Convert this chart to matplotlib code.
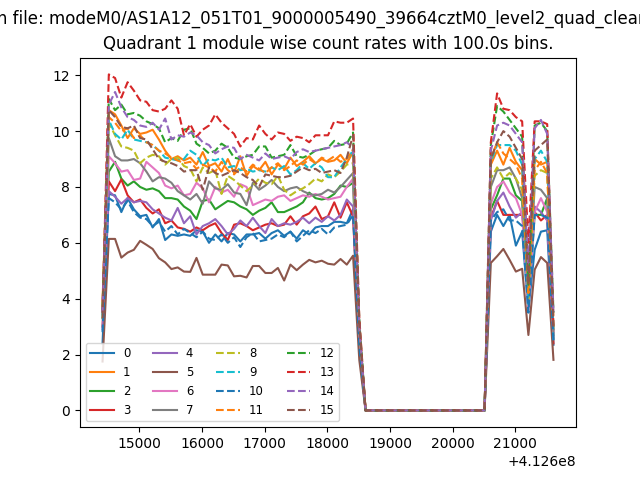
import matplotlib

matplotlib.use("Agg")
import matplotlib.pyplot as plt
import numpy as np

# time axis: 100 s bins (seconds)
t_start = 412614410.0
bin_size = 100.0
n_bins = 73

# count rates per module: first orbit chunk (14410..18510), gap, second chunk (20610..21610)
m0_a = [2.4, 7.75, 7.7, 7.1, 7.6, 7.2, 6.95, 7.0, 6.55, 6.85, 6.1, 6.3, 6.25, 6.3, 6.25, 6.45, 6.4, 6.0, 6.3, 6.05, 6.35,
        6.3, 6.05, 6.3, 6.3, 6.35, 6.15, 6.35, 6.45, 6.25, 6.4, 6.15, 6.45, 6.3, 6.55, 6.6, 6.6, 6.75, 6.75, 6.7, 7.2, 2.3]
m1_a = [3.9, 10.75, 10.6, 10.2, 9.75, 10.1, 9.9, 9.95, 10.05, 9.7, 9.3, 9.0, 9.1, 8.95, 9.05, 8.8, 9.25, 8.75, 8.85, 8.55,
        9.0, 8.5, 9.1, 8.4, 8.75, 8.6, 8.9, 8.45, 8.8, 8.65, 9.05, 8.75, 8.9, 9.1, 8.85, 9.0, 8.9, 8.95, 9.15, 8.85, 9.25, 2.9]
m2_a = [3.3, 8.55, 8.9, 8.3, 8.05, 8.2, 8.0, 7.9, 7.95, 7.85, 7.6, 7.6, 7.55, 7.3, 7.15, 6.85, 7.5, 7.55, 7.2, 7.35, 7.5,
        7.45, 7.3, 7.2, 7.0, 7.15, 7.25, 7.45, 7.1, 7.1, 7.2, 7.3, 7.45, 7.8, 7.6, 7.55, 7.6, 7.75, 8.05, 8.0, 8.15, 2.6]
m3_a = [3.0, 8.2, 7.85, 8.27, 7.7, 7.45, 7.55, 7.25, 7.05, 7.2, 6.7, 6.8, 6.55, 6.5, 6.4, 6.55, 6.45, 6.6, 6.7, 6.35, 6.1,
        6.65, 6.7, 6.6, 6.45, 6.55, 6.65, 6.7, 6.6, 6.65, 6.95, 6.65, 6.95, 7.05, 7.3, 6.85, 6.95, 7.45, 6.9, 7.45, 6.95, 2.3]
m4_a = [2.9, 7.85, 7.65, 7.4, 7.6, 7.45, 7.5, 7.45, 7.2, 7.05, 6.9, 6.8, 7.25, 6.7, 6.95, 6.3, 6.6, 6.7, 6.85, 6.6, 6.3,
        6.5, 6.8, 6.6, 6.9, 6.6, 6.35, 6.85, 6.6, 6.7, 6.65, 6.75, 6.9, 6.7, 6.9, 6.75, 6.95, 6.8, 7.0, 7.55, 7.3, 2.4]
m5_a = [1.75, 6.14, 6.14, 5.47, 5.65, 5.75, 6.07, 5.93, 5.78, 5.45, 5.3, 5.06, 5.12, 4.97, 4.96, 5.46, 4.86, 4.86, 4.86,
        5.22, 5.19, 4.8, 4.82, 4.76, 5.17, 5.17, 4.92, 4.92, 5.1, 4.65, 5.22, 5.02, 5.22, 5.39, 5.3, 5.36, 5.25, 5.22, 5.42,
        5.22, 5.54, 1.8]
m6_a = [3.6, 9.1, 8.85, 8.55, 8.6, 8.25, 8.3, 8.9, 8.7, 8.5, 8.05, 7.95, 8.05, 7.7, 7.75, 8.15, 7.95, 7.45, 8.0, 7.8, 7.9,
        7.65, 8.1, 8.0, 7.35, 7.45, 7.55, 7.5, 7.65, 7.7, 7.5, 7.6, 7.7, 7.65, 7.75, 7.65, 7.55, 7.6, 7.65, 8.0, 8.3, 2.7]
m7_a = [3.8, 9.75, 9.1, 8.95, 8.95, 9.0, 8.85, 8.55, 8.2, 8.35, 8.3, 8.15, 7.85, 7.7, 7.55, 7.75, 7.4, 8.2, 7.95, 7.9, 8.1,
        7.8, 7.75, 7.35, 8.15, 7.9, 8.05, 8.25, 8.0, 7.85, 7.95, 8.0, 7.85, 7.75, 7.7, 7.75, 7.9, 7.8, 8.0, 8.25, 8.5, 2.8]
m8_a = [3.5, 10.3, 9.85, 9.45, 9.4, 9.3, 8.85, 9.05, 9.15, 9.1, 8.8, 9.0, 9.05, 8.75, 8.65, 8.2, 8.7, 8.5, 8.6, 7.75, 8.4,
        8.25, 8.05, 7.85, 8.05, 8.3, 8.15, 8.1, 8.4, 7.9, 7.7, 7.85, 7.95, 8.1, 8.3, 8.2, 8.45, 8.35, 8.55, 8.8, 8.85, 2.9]
m9_a = [3.4, 10.4, 9.9, 9.7, 10.05, 9.7, 9.65, 9.6, 9.5, 9.3, 9.05, 9.0, 8.95, 9.0, 9.3, 9.15, 8.75, 9.0, 8.95, 9.05, 8.7,
        8.75, 8.6, 8.65, 8.55, 8.6, 8.55, 8.7, 8.6, 8.75, 8.45, 8.6, 8.85, 8.65, 8.85, 8.7, 8.35, 8.35, 8.7, 9.0, 9.3, 3.0]
m10_a = [2.8, 7.6, 7.45, 7.2, 7.5, 7.1, 6.9, 6.85, 6.6, 6.75, 6.4, 6.6, 6.3, 6.5, 6.35, 6.2, 6.4, 6.15, 6.1, 6.3, 6.0,
         6.2, 5.85, 6.2, 6.35, 6.05, 6.1, 6.15, 6.3, 6.2, 6.4, 6.05, 6.25, 6.45, 6.35, 6.5, 6.3, 6.55, 6.6, 6.65, 7.0, 2.3]
m11_a = [3.7, 10.5, 10.3, 10.0, 10.1, 9.75, 9.85, 9.6, 9.5, 9.3, 9.2, 9.05, 8.95, 8.85, 8.9, 8.65, 8.8, 8.7, 8.55, 8.9,
         8.6, 8.45, 8.7, 8.55, 8.8, 8.65, 8.5, 8.7, 8.85, 8.6, 8.75, 8.95, 8.8, 9.0, 8.85, 9.05, 8.95, 9.1, 8.9, 9.0, 9.35, 3.0]
m12_a = [3.6, 11.15, 10.75, 10.95, 10.6, 10.65, 10.55, 10.35, 10.25, 10.1, 9.6, 9.75, 9.65, 10.05, 10.1, 9.55, 9.4, 9.2,
         9.3, 9.55, 9.4, 9.05, 9.0, 9.1, 9.15, 9.45, 9.45, 9.05, 9.1, 9.15, 9.5, 9.1, 9.05, 9.15, 9.3, 9.35, 9.4, 9.65, 9.5,
         9.55, 9.95, 3.2]
m13_a = [3.5, 12.03, 11.9, 11.2, 11.75, 11.45, 11.1, 11.05, 10.75, 10.7, 10.8, 11.1, 10.8, 9.85, 10.25, 9.8, 10.05, 10.2,
         10.6, 10.3, 10.1, 9.9, 9.45, 9.75, 9.7, 10.2, 9.9, 9.7, 9.95, 9.9, 9.65, 9.8, 9.75, 9.6, 9.85, 9.85, 9.85, 10.35,
         10.3, 10.3, 10.45, 3.3]
m14_a = [3.5, 10.95, 11.4, 10.85, 10.5, 10.4, 10.2, 10.15, 10.3, 10.05, 10.45, 9.7, 9.85, 9.8, 9.95, 9.85, 9.6, 9.5, 9.2,
         9.35, 9.45, 9.4, 9.0, 9.15, 9.05, 8.95, 9.2, 9.0, 9.05, 9.1, 9.0, 9.25, 9.35, 9.25, 9.3, 9.35, 9.4, 9.45, 9.5, 9.6,
         9.4, 3.0]
m15_a = [3.3, 10.75, 10.5, 10.15, 10.1, 10.2, 9.75, 9.7, 9.35, 9.0, 8.9, 8.85, 8.75, 8.55, 8.6, 8.6, 7.9, 8.7, 8.5, 8.4,
         8.5, 8.6, 8.5, 8.35, 8.25, 8.0, 8.45, 8.4, 8.35, 8.35, 8.4, 8.55, 8.7, 8.6, 8.65, 8.5, 8.55, 8.6, 8.5, 9.05, 9.85,
         3.1]

gap = [0.0] * 20

m0_b = [6.4, 7.0, 6.6, 7.0, 5.9, 6.4, 3.6, 5.75, 6.4, 6.45, 2.35]
m1_b = [8.8, 9.3, 8.8, 9.4, 8.9, 8.6, 4.0, 9.0, 8.8, 8.9, 2.6]
m2_b = [7.2, 7.7, 8.3, 8.3, 7.7, 7.5, 4.0, 7.0, 7.0, 7.6, 2.9]
m3_b = [6.9, 7.5, 7.0, 7.0, 7.0, 7.0, 5.5, 7.1, 6.8, 7.0, 2.4]
m4_b = [6.8, 7.5, 7.8, 7.3, 6.9, 7.1, 4.5, 7.3, 7.1, 6.8, 2.8]
m5_b = [5.28, 5.52, 5.78, 5.39, 4.97, 5.07, 2.7, 5.04, 5.49, 5.28, 1.81]
m6_b = [7.4, 8.0, 8.2, 7.8, 7.6, 7.0, 3.6, 7.1, 7.6, 7.1, 2.6]
m7_b = [8.0, 8.6, 8.6, 8.7, 8.3, 7.6, 4.0, 8.0, 7.9, 7.6, 2.7]
m8_b = [8.3, 8.7, 8.3, 8.5, 8.3, 7.9, 4.0, 8.4, 8.6, 8.5, 2.9]
m9_b = [8.9, 9.5, 9.5, 9.5, 9.3, 8.8, 3.8, 9.0, 9.3, 8.9, 2.5]
m10_b = [6.8, 7.1, 7.2, 6.8, 6.8, 6.6, 3.5, 7.0, 7.0, 6.9, 2.5]
m11_b = [9.0, 9.6, 9.2, 9.0, 8.8, 8.3, 4.2, 8.6, 8.9, 8.5, 3.3]
m12_b = [9.5, 10.9, 10.7, 10.4, 10.1, 9.8, 4.5, 10.2, 10.3, 10.0, 3.5]
m13_b = [9.6, 11.35, 10.8, 10.75, 10.5, 10.35, 6.0, 10.35, 10.35, 10.25, 3.0]
m14_b = [9.3, 10.2, 10.3, 10.2, 9.9, 9.6, 5.0, 10.1, 10.4, 9.9, 3.5]
m15_b = [9.0, 9.6, 10.0, 9.8, 9.4, 9.0, 4.5, 9.3, 9.5, 9.7, 3.0]

first = [m0_a, m1_a, m2_a, m3_a, m4_a, m5_a, m6_a, m7_a, m8_a, m9_a, m10_a, m11_a, m12_a, m13_a, m14_a, m15_a]
second = [m0_b, m1_b, m2_b, m3_b, m4_b, m5_b, m6_b, m7_b, m8_b, m9_b, m10_b, m11_b, m12_b, m13_b, m14_b, m15_b]

fname = "modeM0/AS1A12_051T01_9000005490_39664cztM0_level2_quad_clean"
quadrant = 1

times = t_start + bin_size * np.arange(n_bins)

fig, ax = plt.subplots(figsize=(6.4, 4.8), dpi=100)
for mod, (a, b) in enumerate(zip(first, second)):
    rate = np.array(a + gap + b)
    ls = "-" if mod < 8 else "--"
    ax.plot(times, rate, ls, label=str(mod))

ax.legend(ncol=4, loc="lower left", fontsize="small")
ax.set_title("Quadrant %d module wise count rates with %.1fs bins." % (quadrant, bin_size))
fig.suptitle("In file: " + fname)
fig.savefig("out.png")
